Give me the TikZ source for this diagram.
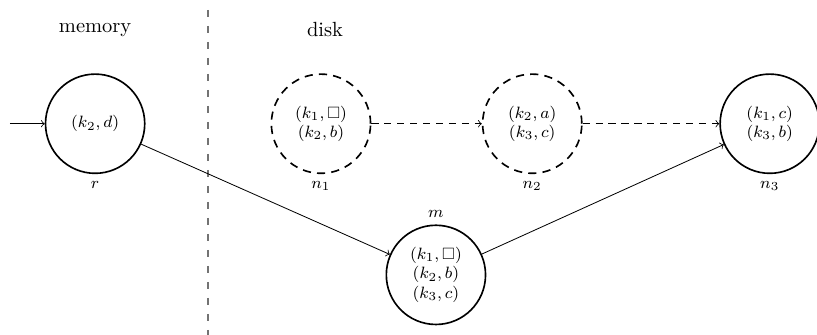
\documentclass[tikz,border=0pt]{standalone}
\usepackage{amsmath,amssymb}
\usepackage{tikz}
\usetikzlibrary{positioning,calc}
\tikzstyle{page_node} = [circle, draw, thick, minimum size=1.7cm, inner sep=0pt, align=center, font=\footnotesize]
\tikzstyle{link} = [thin,->,>=to]

\begin{document}
\begin{tikzpicture}[node distance=3.6cm,
    disk_node/.style={page_node, dash pattern=on 4pt off 3pt},
    tag/.style={font=\footnotesize}]
    \useasboundingbox (0,0) rectangle (14,-5.74);

    % Regions
    \node (memory) at (1.63,-0.51) {memory};
    \node (disk) at (5.57,-0.51) {disk};
    \coordinate (split_top) at (3.56,-0.17);
    \coordinate (split_bot) at (3.56,-5.74);
    \draw[black!55, thick, dash pattern=on 3.6pt off 4.2pt] (split_top) -- (split_bot);

    % Nodes (pages)
    \node[page_node, label={[tag]below:$r$}] (r) at (1.63,-2.12) {$(k_2,d)$};
    \node[disk_node, label={[tag]below:$n_1$}] (n1) [right of=r, node distance=3.87cm] {$(k_1,\Box)$\\$(k_2,b)$};
    \node[disk_node, label={[tag]below:$n_2$}] (n2) [right of=n1, node distance=3.62cm] {$(k_2,a)$\\$(k_3,c)$};
    \node[page_node, label={[tag]below:$n_3$}] (n3) [right of=n2, node distance=4.07cm] {$(k_1,c)$\\$(k_3,b)$};
    \node[page_node, label={[tag]above:$m$}] (m) at ($(n1)+(1.97,-2.59)$) {$(k_1,\Box)$\\$(k_2,b)$\\$(k_3,c)$};
    \coordinate (entry) at (0.17,-2.12);

    % Pointers
    \draw[link] (entry) -- (r);
    \draw[link] (r) -- (m);
    \draw[link] (m) -- (n3);
    \draw[link, dash pattern=on 3.5pt off 2.8pt] (n1) -- (n2);
    \draw[link, dash pattern=on 3.5pt off 2.8pt] (n2) -- (n3);
\end{tikzpicture}
\end{document}
